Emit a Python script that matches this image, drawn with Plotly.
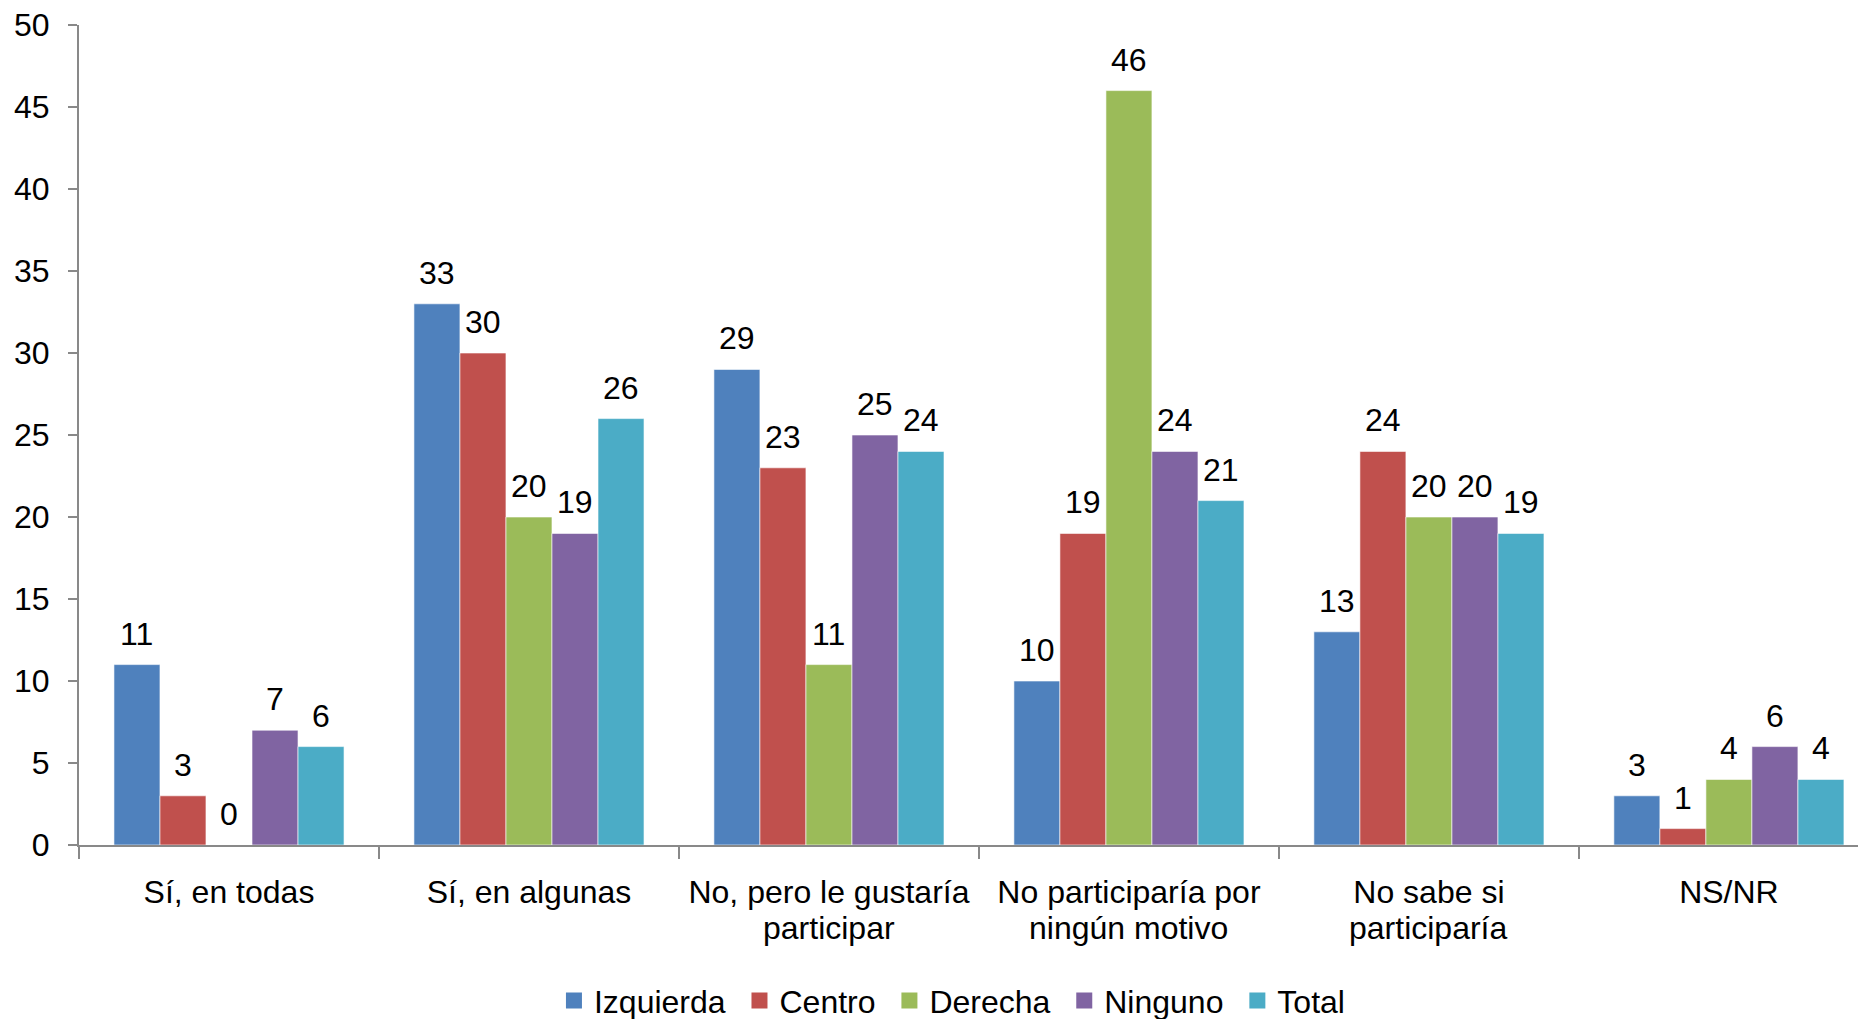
import plotly.graph_objects as go

categories = ["Sí, en todas", "Sí, en algunas", "No, pero le gustaría participar",
              "No participaría por ningún motivo", "No sabe si participaría", "NS/NR"]
label_line1 = ["Sí, en todas", "Sí, en algunas", "No, pero le gustaría",
               "No participaría por", "No sabe si", "NS/NR"]
label_line2 = ["", "", "participar", "ningún motivo", "participaría", ""]

izquierda = [11, 33, 29, 10, 13, 3]
centro = [3, 30, 23, 19, 24, 1]
derecha = [0, 20, 11, 46, 20, 4]
ninguno = [7, 19, 25, 24, 20, 6]
total = [6, 26, 24, 21, 19, 4]

series = [
    ("Izquierda", izquierda, "#4F81BD"),
    ("Centro", centro, "#C0504D"),
    ("Derecha", derecha, "#9BBB59"),
    ("Ninguno", ninguno, "#8064A2"),
    ("Total", total, "#4BACC6"),
]

font_family = "Liberation Sans, Arial, sans-serif"
fsize = 32

# page body adds an 8px margin, so the figure is a bit smaller than the window
W, H = 1858, 1011
ml, mr, mt, mb = 71, 0, 17, 174
x_range = [-0.5, 5.457]
bargap = 0.233

# pixel width of one bar, from the layout above
cat_px = (W - ml - mr) / (x_range[1] - x_range[0])
bar_px = cat_px * (1 - bargap) / len(series)

fig = go.Figure()
for i, (name, vals, color) in enumerate(series):
    fig.add_trace(go.Bar(
        x=categories,
        y=vals,
        name=name,
        showlegend=False,
        marker=dict(color=color, line=dict(color="rgba(255,255,255,0.6)", width=1)),
    ))
    # legend entry with a bigger square
    legend_name = name if i == len(series) - 1 else name + "\u00a0"
    fig.add_trace(go.Scatter(
        x=[None], y=[None], mode="markers", name=legend_name,
        marker=dict(symbol="square", size=17, color=color),
    ))
    shift = (i - (len(series) - 1) / 2) * bar_px
    for cat, v in zip(categories, vals):
        fig.add_annotation(
            x=cat, y=v, text=str(v), showarrow=False,
            xshift=shift, yshift=11, yanchor="bottom",
            font=dict(size=fsize, color="black", family=font_family),
        )

# second line of the category labels, kept tight like the original
for cat, txt in zip(categories, label_line2):
    if txt:
        fig.add_annotation(
            x=cat, y=0, yref="paper", text=txt, showarrow=False,
            yanchor="middle", yshift=-83,
            font=dict(size=fsize, color="black", family=font_family),
        )

fig.update_layout(
    width=W,
    height=H,
    barmode="group",
    bargap=bargap,
    bargroupgap=0,
    plot_bgcolor="white",
    paper_bgcolor="white",
    font=dict(family=font_family, size=fsize, color="black"),
    margin=dict(l=ml, r=mr, t=mt, b=mb, autoexpand=False),
    showlegend=True,
    legend=dict(
        orientation="h",
        x=0.4885, xanchor="center",
        y=-0.19, yanchor="middle",
        font=dict(size=fsize, color="black"),
        traceorder="normal",
        itemwidth=30,
    ),
)

fig.update_xaxes(
    type="category",
    tickmode="array",
    tickvals=categories,
    ticktext=label_line1,
    range=x_range,
    automargin=False,
    showline=True,
    linecolor="#898989",
    linewidth=2,
    ticks="outside",
    tickson="boundaries",
    ticklen=12,
    tickcolor="#898989",
    tickwidth=2,
    ticklabelstandoff=18,
    ticklabeloverflow="allow",
    showgrid=False,
    tickfont=dict(size=fsize, color="black"),
)

fig.update_yaxes(
    range=[0, 50],
    dtick=5,
    tick0=0,
    automargin=False,
    showline=True,
    linecolor="#898989",
    linewidth=2,
    ticks="outside",
    ticklen=9,
    tickcolor="#898989",
    tickwidth=2,
    ticklabelstandoff=12,
    ticklabeloverflow="allow",
    showgrid=False,
    zeroline=False,
    tickfont=dict(size=fsize, color="black"),
)

fig.write_html("out.html")
